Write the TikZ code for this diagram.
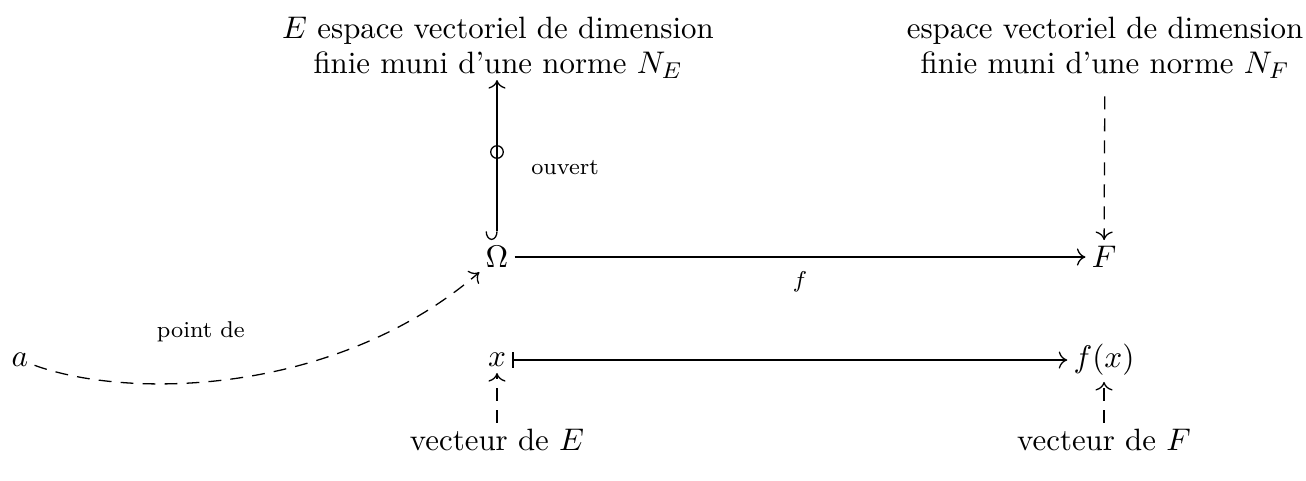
\documentclass[tikz,border=0pt]{standalone}
\usetikzlibrary{arrows.meta}
\begin{document}
\begin{tikzpicture}[x=0.35pt,y=-0.35pt,
  every node/.style={inner sep=2pt},
  obj/.style={font=\fontsize{10.8}{12.3}\selectfont},
  lab/.style={font=\footnotesize},
  tip/.tip={Computer Modern Rightarrow[length=3pt,width=6pt]},
  arr/.style={line width=0.45pt,-tip},
  dsh/.style={arr,dash pattern=on 4.5pt off 3.2pt}]
\useasboundingbox (0,0) rectangle (1306,480);
\node[obj,align=center] (E) at (498,48) {$E$ espace vectoriel de dimension\\finie muni d'une norme $N_E$};
\node[obj,align=center] (Fs) at (1105,48) {espace vectoriel de dimension\\finie muni d'une norme $N_F$};
\node[obj] (O) at (497,257) {$\Omega$};
\node[obj] (F) at (1104,257) {$F$};
\node[obj] (x) at (497,360) {$x$};
\node[obj] (fx) at (1104,360) {$f(x)$};
\node[obj] (a) at (20,360) {$a$};
\node[obj] (vE) at (497,440) {vecteur de $E$};
\node[obj] (vF) at (1104,440) {vecteur de $F$};
\coordinate (Ot) at (497,240);
\coordinate (Et) at (497,80);
\draw[arr,{Hooks[right,length=3pt,width=8pt]}-tip] (Ot) -- (Et) node[pos=0.55,draw,circle,inner sep=0pt,minimum size=4.4pt,line width=0.45pt] (c) {};
\node[lab] (ouv) at (565,168) {ouvert};
\draw[arr] (O) -- node[lab,below=3pt,pos=0.5] (fl) {$f$} (F);
\draw[arr,{Bar[width=5.5pt]}-tip] (x) -- (fx);
\draw[dsh,shorten <=4pt] (Fs) -- (F);
\draw[dsh] (vE) -- (x);
\draw[dsh] (vF) -- (fx);
\draw[dsh] (a) .. controls (130,400) and (337,395) .. (O) node[lab,pos=0.42,above=12pt] (pd) {point de};
\end{tikzpicture}
\end{document}
